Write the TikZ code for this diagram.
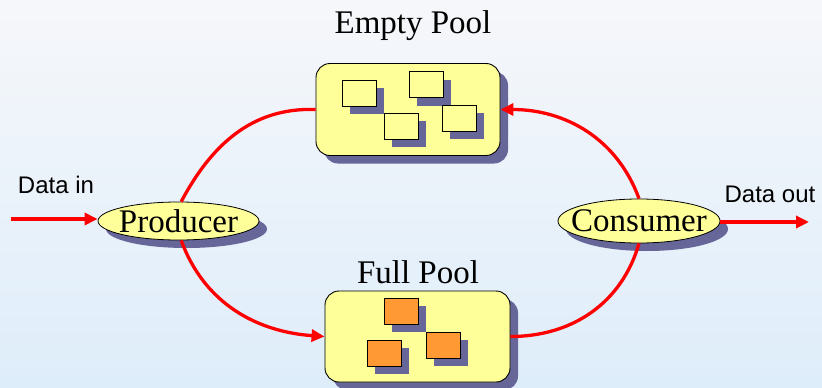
\documentclass[tikz,border=0pt]{standalone}
\usepackage{fontspec}
\setmainfont{Liberation Serif}
\setsansfont{Liberation Sans}
\usetikzlibrary{shapes.geometric,shadows,arrows.meta}

\definecolor{bgtop}{RGB}{246,247,250}
\definecolor{bgbottom}{RGB}{222,237,250}
\definecolor{poolfill}{RGB}{255,255,153}
\definecolor{shadowc}{RGB}{102,102,153}
\definecolor{fullbuf}{RGB}{255,153,51}
\definecolor{flow}{RGB}{255,0,0}

\tikzset{
  solidshadow/.style={drop shadow={shadow xshift=8pt, shadow yshift=-8pt, fill=shadowc, opacity=1}},
  pool/.style={draw=black, line width=0.9pt, fill=poolfill, rounded corners=14pt,
    minimum width=184pt, minimum height=92pt, inner sep=0pt, solidshadow},
  buf/.style={draw=black, line width=0.9pt, minimum width=34pt, minimum height=26pt,
    inner sep=0pt, solidshadow},
  emptybuf/.style={buf, fill=poolfill},
  fullbuf/.style={buf, fill=fullbuf},
  agent/.style={ellipse, draw=black, line width=0.8pt, fill=poolfill, inner sep=0pt,
    solidshadow},
  bigtext/.style={font=\fontsize{33}{36}\selectfont, inner sep=0pt},
  smalltext/.style={font=\sffamily\fontsize{24}{26}\selectfont, inner sep=0pt},
  flowline/.style={draw=flow, line width=3.3pt},
  flowarrow/.style={flowline, -{Triangle[length=13pt,width=12pt]}},
}

\begin{document}
\begin{tikzpicture}[x=1pt, y=-1pt]
  % background
  \shade[top color=bgtop, bottom color=bgbottom] (0,0) rectangle (822,388);
  \useasboundingbox (0,0) rectangle (822,388);

  % titles
  \node[bigtext, anchor=base] (emptytitle) at (413,33) {Empty Pool};
  \node[bigtext, anchor=base] (fulltitle) at (418,283) {Full Pool};

  % pools
  \node[pool] (empty) at (408,109.5) {};
  \node[pool, minimum width=185pt, minimum height=91pt] (full) at (417.5,336.5) {};

  % empty buffers
  \node[emptybuf] (e1) at (359,93) {};
  \node[emptybuf] (e2) at (426,84.5) {};
  \node[emptybuf] (e3) at (401,126) {};
  \node[emptybuf] (e4) at (459,118) {};

  % full buffers
  \node[fullbuf] (f1) at (401,311) {};
  \node[fullbuf] (f2) at (384,353) {};
  \node[fullbuf] (f3) at (443,345) {};

  % producer and consumer
  \node[agent, minimum width=161pt, minimum height=38pt] (prod) at (178.5,221) {};
  \node[bigtext] (prodtext) at (prod.center) {Producer};
  \node[agent, minimum width=162pt, minimum height=44pt] (cons) at (639,221) {};
  \node[bigtext] (constext) at (cons.center) {Consumer};

  % external data
  \node[smalltext, anchor=base] (datain) at (56,193) {Data in};
  \node[smalltext, anchor=base] (dataout) at (770,202) {Data out};
  \coordinate (insrc) at (11,219);
  \coordinate (outdst) at (809,222);

  % flows
  \draw[flowarrow] (insrc) -- (prod.west |- insrc);
  \draw[flowarrow] (cons.east |- outdst) -- (outdst);
  \draw[flowline] (prod.82) to[out=62, in=178] (empty.west);
  \draw[flowarrow] (cons.90) to[out=110, in=0] (empty.east);
  \draw[flowarrow] (prod.-82) to[out=-70, in=176] (full.west);
  \draw[flowline] (cons.-90) to[out=-106, in=0] (full.east);
\end{tikzpicture}
\end{document}
